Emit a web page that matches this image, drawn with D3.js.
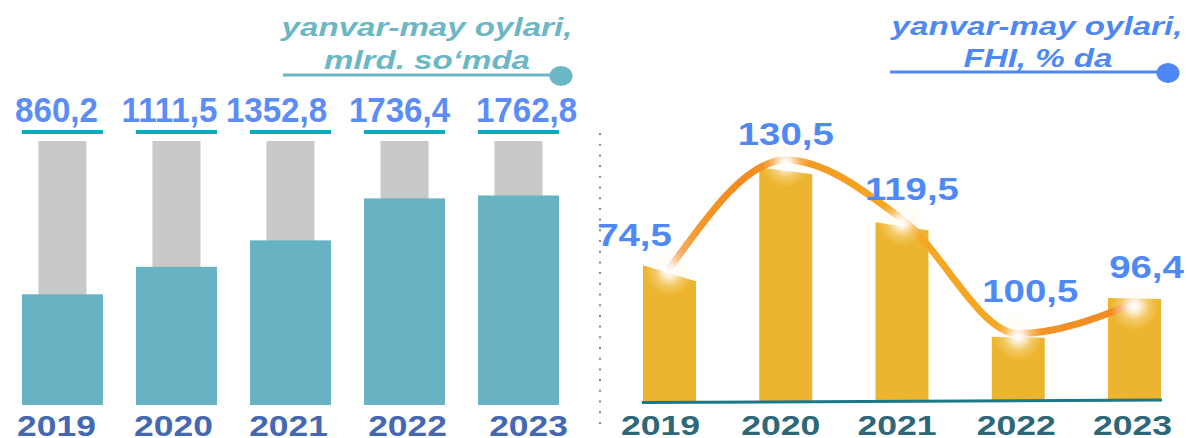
<!doctype html>
<html lang="uz">
<head>
<meta charset="UTF-8">
<title>yanvar-may oylari</title>
<script src="https://d3js.org/d3.v7.min.js"></script>
<style>
  html, body { margin: 0; padding: 0; background: #fff; }
  text { font-family: 'Liberation Sans', Arial, sans-serif; font-weight: bold; }
</style>
</head>
<body>
<div class="canvas"></div>
<script>
  // data
  const years = ['2019', '2020', '2021', '2022', '2023'];
  const volume = [860.2, 1111.5, 1352.8, 1736.4, 1762.8];   // mlrd. so'm
  const growth = [74.5, 130.5, 119.5, 100.5, 96.4];         // FHI, %
  // the right panel is drawn as a picture, not to the printed values:
  // bar and curve levels (% of the tallest point)
  const barLevel = [53, 95.5, 72.5, 26.5, 42.5];
  const curveLevel = [55, 100, 75.5, 28, 40.5];

  const fmt = v => d3.format('.1f')(v).replace('.', ',');

  const W = 1187, H = 438;
  const svg = d3.select('.canvas').append('svg')
    .attr('width', W).attr('height', H);
  const defs = svg.append('defs');

  // text with a horizontal stretch, like in the original picture
  function label(g, str, x, y, size, k, color, anchor, italic) {
    return g.append('text')
      .attr('transform', `translate(${x},${y}) scale(${k},1)`)
      .attr('text-anchor', anchor || 'middle')
      .attr('font-size', size + 'px')
      .attr('font-style', italic ? 'italic' : 'normal')
      .attr('fill', color)
      .text(str);
  }

  // ---------- left panel ----------
  const left = svg.append('g');
  const xL = d3.scaleBand().domain(years).range([22, 559]).paddingInner(0.29).paddingOuter(0);
  const yL = d3.scaleLinear().domain([-150, 2260]).range([405, 141]);
  const grayW = 48;

  left.selectAll('rect.track')
    .data(years)
    .join('rect')
    .attr('class', 'track')
    .attr('x', d => xL(d) + (xL.bandwidth() - grayW) / 2)
    .attr('y', yL(yL.domain()[1]))
    .attr('width', grayW)
    .attr('height', yL(yL.domain()[0]) - yL(yL.domain()[1]))
    .attr('fill', '#c9c9c9');

  left.selectAll('rect.bar')
    .data(volume)
    .join('rect')
    .attr('class', 'bar')
    .attr('x', (d, i) => xL(years[i]))
    .attr('y', d => yL(d))
    .attr('width', xL.bandwidth())
    .attr('height', d => yL(yL.domain()[0]) - yL(d))
    .attr('fill', '#67b3c4');

  left.selectAll('rect.under')
    .data(years)
    .join('rect')
    .attr('class', 'under')
    .attr('x', d => xL(d))
    .attr('y', 130)
    .attr('width', xL.bandwidth())
    .attr('height', 4)
    .attr('fill', '#0aaabf');

  const lNudge = [-6, -7, -14, -5, 8];
  volume.forEach((v, i) => {
    label(left, fmt(v), xL(years[i]) + xL.bandwidth() / 2 + lNudge[i], 122, 34.5, 0.96, '#5b8cf7');
  });

  const yNudgeL = [-6, -3, -2, 3, 10];
  years.forEach((y, i) => {
    label(left, y, xL(y) + xL.bandwidth() / 2 + yNudgeL[i], 436, 30, 1.18, '#4468b1');
  });

  // left title
  label(left, 'yanvar-may oylari,', 427, 36, 26.5, 1.25, '#6bb7c5', 'middle', true);
  label(left, 'mlrd. so\u2018mda', 427, 69, 26.5, 1.25, '#6bb7c5', 'middle', true);
  left.append('line')
    .attr('x1', 283).attr('x2', 556).attr('y1', 75).attr('y2', 75)
    .attr('stroke', '#6bb7c5').attr('stroke-width', 3);
  left.append('ellipse')
    .attr('cx', 561).attr('cy', 76).attr('rx', 11.5).attr('ry', 10)
    .attr('fill', '#6bb7c5');

  // divider
  svg.append('line')
    .attr('x1', 600).attr('x2', 600).attr('y1', 133).attr('y2', 426)
    .attr('stroke', '#8a8a8a').attr('stroke-width', 2)
    .attr('stroke-dasharray', '2 8.7');

  // ---------- right panel ----------
  const right = svg.append('g');
  const xR = d3.scaleBand().domain(years).range([643, 1161]).paddingInner(0.544).paddingOuter(0);
  const yR = d3.scaleLinear().domain([0, 100]).range([401, 160]);
  const tilt = [16, 7, 8, 1, 1];
  const cx = d => xR(d) + xR.bandwidth() / 2;

  right.selectAll('path.bar')
    .data(barLevel)
    .join('path')
    .attr('class', 'bar')
    .attr('d', (d, i) => {
      const x0 = xR(years[i]), x1 = x0 + xR.bandwidth();
      const top = yR(d);
      return `M${x0},${yR(0)}L${x0},${top - tilt[i] / 2}L${x1},${top + tilt[i] / 2}L${x1},${yR(0)}Z`;
    })
    .attr('fill', '#edb52f');

  right.append('line')
    .attr('x1', 642).attr('x2', 1162).attr('y1', 402.5).attr('y2', 400)
    .attr('stroke', '#1c7887').attr('stroke-width', 3);

  // curve
  const lg = defs.append('linearGradient').attr('id', 'curveGrad')
    .attr('gradientUnits', 'userSpaceOnUse')
    .attr('x1', cx(years[0])).attr('x2', cx(years[4])).attr('y1', 0).attr('y2', 0);
  [[0, '#f7b98a'], [0.06, '#f29a2c'], [0.15, '#f08c1f'], [0.3, '#f39a22'],
   [0.45, '#f5a623'], [0.7, '#f5a623'], [0.82, '#f29126'], [0.95, '#f08c22'], [1, '#f6b48a']]
    .forEach(s => lg.append('stop').attr('offset', s[0]).attr('stop-color', s[1]));

  const pts = curveLevel.map((v, i) => [cx(years[i]), yR(v)]);
  right.append('path')
    .datum(pts)
    .attr('d', d3.line().curve(d3.curveMonotoneX))
    .attr('fill', 'none')
    .attr('stroke', 'url(#curveGrad)')
    .attr('stroke-width', 7)
    .attr('stroke-linecap', 'round');

  const rg = defs.append('radialGradient').attr('id', 'glow');
  rg.append('stop').attr('offset', 0).attr('stop-color', '#fff').attr('stop-opacity', 1);
  rg.append('stop').attr('offset', 0.25).attr('stop-color', '#fff').attr('stop-opacity', 0.8);
  rg.append('stop').attr('offset', 0.6).attr('stop-color', '#fff6e0').attr('stop-opacity', 0.3);
  rg.append('stop').attr('offset', 1).attr('stop-color', '#fff6e0').attr('stop-opacity', 0);

  right.selectAll('circle.glow')
    .data(pts)
    .join('circle')
    .attr('class', 'glow')
    .attr('cx', d => d[0]).attr('cy', d => d[1] + 3)
    .attr('r', 24)
    .attr('fill', 'url(#glow)');

  const rNudge = [[-35, -22], [0, -15], [10, -19], [12, -32], [12, -25]];
  growth.forEach((v, i) => {
    label(right, fmt(v), pts[i][0] + rNudge[i][0], pts[i][1] + rNudge[i][1], 32, 1.2, '#4f89f6');
  });

  const yNudgeR = [-9, -5, -5, -2, -2];
  years.forEach((y, i) => {
    label(right, y, cx(y) + yNudgeR[i], 434.5, 28.5, 1.25, '#2e6777');
  });

  // right title
  label(right, 'yanvar-may oylari,', 1037, 35, 26.5, 1.25, '#4d88f5', 'middle', true);
  label(right, 'FHI, % da', 1038, 67, 26.5, 1.25, '#4d88f5', 'middle', true);
  right.append('line')
    .attr('x1', 890).attr('x2', 1162).attr('y1', 72).attr('y2', 72)
    .attr('stroke', '#4d88f5').attr('stroke-width', 3);
  right.append('ellipse')
    .attr('cx', 1168).attr('cy', 73).attr('rx', 11.5).attr('ry', 10)
    .attr('fill', '#4d88f5');
</script>
</body>
</html>
